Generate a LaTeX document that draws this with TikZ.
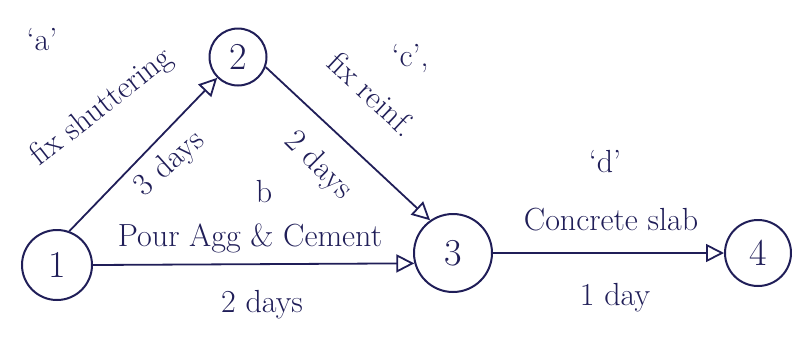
\documentclass[tikz,border=0pt]{standalone}
\usetikzlibrary{arrows.meta}
\definecolor{ink}{RGB}{32,30,88}
\tikzset{
  evt/.style={circle, draw=ink, line width=2pt, text=ink, inner sep=0pt, font=\fontsize{38}{40}\selectfont},
  act/.style={draw=ink, line width=1.8pt, -{Triangle[open, length=18pt, width=18pt, line width=1.8pt]}},
  lbl/.style={text=ink, inner sep=0pt, font=\fontsize{32}{34}\selectfont},
  tag/.style={text=ink, inner sep=0pt, font=\fontsize{32}{34}\selectfont}
}
\begin{document}
\begin{tikzpicture}[x=1pt,y=-1pt]
\useasboundingbox (0,0) rectangle (792,354);
% events
\node[evt, minimum size=70pt] (n1) at (57,265) {1};
\node[evt, minimum size=57pt] (n2) at (238,57) {2};
\node[evt, minimum size=78pt] (n3) at (453,253) {3};
\node[evt, minimum size=66pt] (n4) at (758,253) {4};
% activities
\draw[act] (n1.70) -- (n2.225);
\draw[act] (n2.-20) -- (n3.125);
\draw[act] (n1.east) -- (n3.195);
\draw[act] (n3) -- (n4);
% labels
\node[tag] (ta) at (42,40) {`a'};
\node[lbl, rotate=38] (la) at (102,108) {fix shuttering};
\node[lbl, rotate=42] (da) at (170,164) {3 days};
\node[tag] (tc) at (410,58) {`c',};
\node[lbl, rotate=-43] (lc) at (372,94) {fix reinf.};
\node[lbl, rotate=-45] (dc) at (318,166) {2 days};
\node[tag] (tb) at (264,192) {b};
\node[lbl] (lb) at (250,238) {Pour Agg \& Cement};
\node[lbl] (db) at (262,305) {2 days};
\node[tag] (td) at (605,162) {`d'};
\node[lbl] (ld) at (611,220) {Concrete slab};
\node[lbl] (dd) at (615,298) {1 day};
\end{tikzpicture}
\end{document}
